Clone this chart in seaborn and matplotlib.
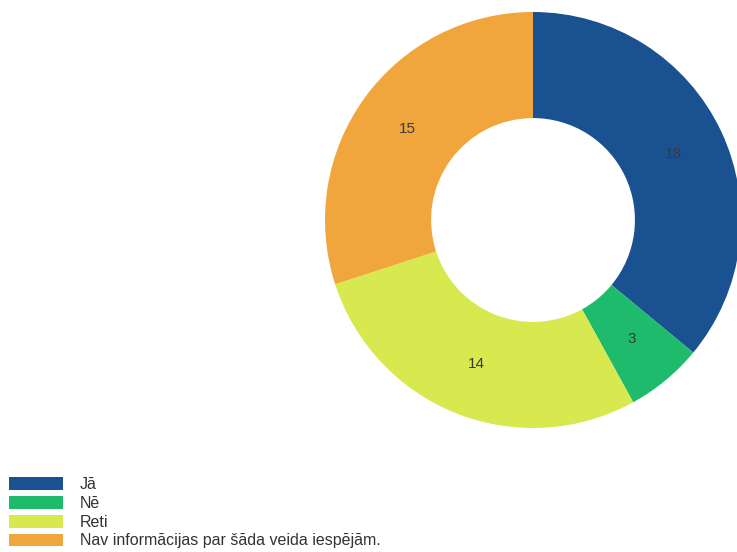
import matplotlib.pyplot as plt
import seaborn as sns

# Donut chart data
categories = ["Jā", "Nē", "Reti", "Nav informācijas par šāda veida iespējām."]
counts = [18, 3, 14, 15]
colors = ["#1a5191", "#1dbb6b", "#d8e94f", "#f0a63c"]

sns.set_theme(style="white")
plt.rcParams["font.family"] = ["Liberation Sans", "DejaVu Sans"]

W, H = 737, 552
fig = plt.figure(figsize=(W / 100, H / 100), dpi=100)

# pie centered at (533, 220) px, radius 208 px
cx, cy, r = 533, 220, 208
ax = fig.add_axes([(cx - r) / W, (H - cy - r) / H, 2 * r / W, 2 * r / H])

wedges, texts, autotexts = ax.pie(
    counts,
    colors=colors,
    startangle=90,
    counterclock=False,
    radius=1,
    autopct=lambda p: f"{round(p * sum(counts) / 100):d}",
    pctdistance=0.745,
    wedgeprops={"width": 0.51, "linewidth": 0},
    textprops={"color": "#3a3a3a", "fontsize": 11},
)
for w in wedges:
    w.set_clip_on(False)
ax.set_xlim(-1, 1)
ax.set_ylim(-1, 1)
ax.set_aspect("equal")
ax.axis("off")

fig.legend(
    wedges,
    categories,
    loc="upper left",
    bbox_to_anchor=(9 / W, 1 - 477 / H),
    frameon=False,
    fontsize=11.5,
    handlelength=3.38,
    handleheight=0.85,
    handletextpad=1.06,
    labelspacing=0.24,
    borderpad=0,
    borderaxespad=0,
    labelcolor="#333333",
)

fig.savefig("out.png", dpi=100, facecolor="white")
